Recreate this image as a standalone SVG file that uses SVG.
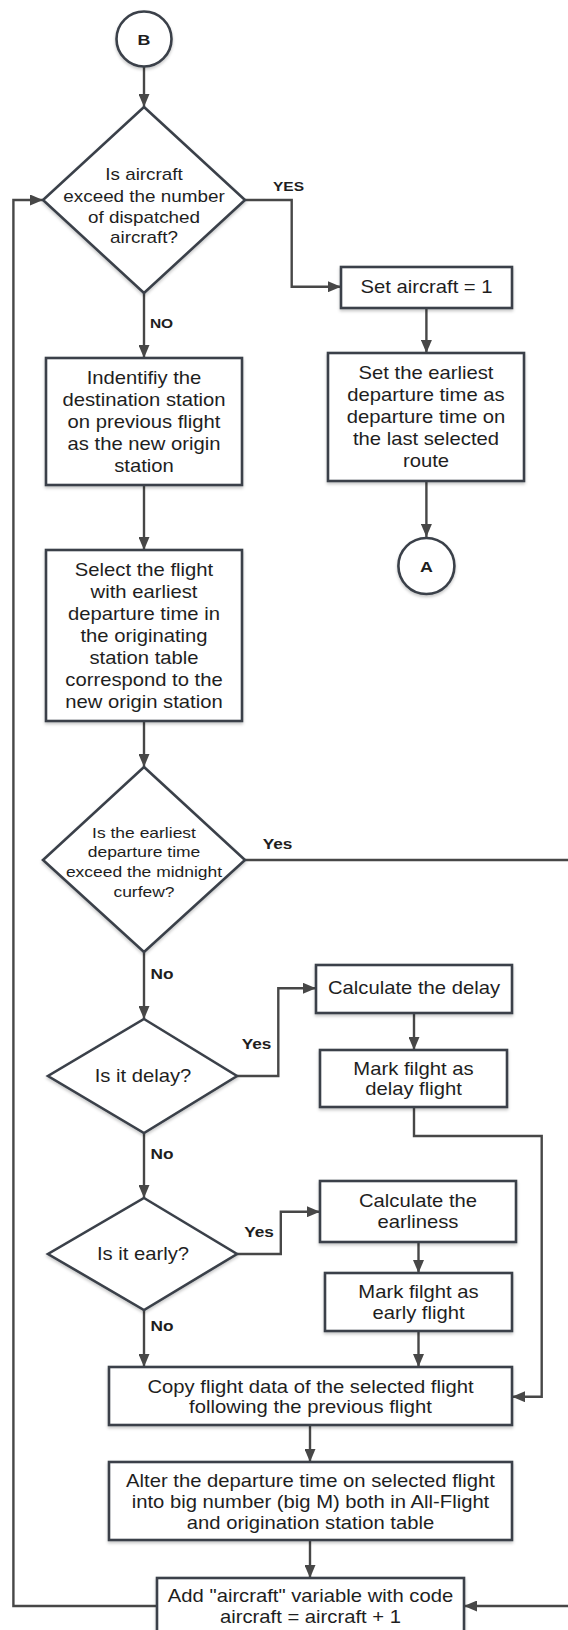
<svg xmlns="http://www.w3.org/2000/svg" width="568" height="1630" viewBox="0 0 568 1630">
  <style>
    .shape { fill: #ffffff; stroke: #3a414a; stroke-width: 2.6; filter: url(#shadow); }
    .line { fill: none; stroke: #474747; stroke-width: 2.4; marker-end: url(#arrow); }
    .t { font-family: "Liberation Sans", Arial, sans-serif; fill: #1e1e1e; text-anchor: middle; }
    .box { font-size: 17.6px; }
    .d1 { font-size: 16.4px; }
    .d2 { font-size: 15.2px; }
    .lbl { font-family: "Liberation Sans", Arial, sans-serif; font-weight: bold; fill: #1e1e1e; text-anchor: middle; }
    .caps { font-size: 13.5px; }
    .mixed { font-size: 15px; }
  </style>
  <defs>
    <filter id="shadow" x="-10%" y="-10%" width="120%" height="130%">
      <feDropShadow dx="0" dy="2" stdDeviation="1.5" flood-color="#000" flood-opacity="0.22"/>
    </filter>
    <marker id="arrow" markerUnits="userSpaceOnUse" markerWidth="14" markerHeight="11" refX="13" refY="5.5" orient="auto">
      <path d="M0,0 L13,5.5 L0,11 Z" fill="#474747"/>
    </marker>
  </defs>

  <!-- connectors -->
  <g id="connectors">
    <path class="line" d="M144,67 V107"/>
    <path class="line" d="M245,200 H291.7 V286.7 H341"/>
    <path class="line" d="M144,293 V358"/>
    <path class="line" d="M426.4,308 V353"/>
    <path class="line" d="M426.4,481 V537"/>
    <path class="line" d="M144,485 V550"/>
    <path class="line" d="M144,721 V767"/>
    <!-- curfew exceeded: runs along the outer right margin down to the counter box -->
    <path class="line" d="M245,860 H572 V1606 H464"/>
    <path class="line" d="M144,952 V1019"/>
    <path class="line" d="M237,1076 H278.3 V988.3 H316"/>
    <path class="line" d="M414,1013 V1050"/>
    <path class="line" d="M414,1107 V1136 H541.7 V1396.7 H512"/>
    <path class="line" d="M144,1133 V1198"/>
    <path class="line" d="M237,1254 H280.8 V1211.7 H320"/>
    <path class="line" d="M418.5,1242 V1273"/>
    <path class="line" d="M418.5,1331 V1367"/>
    <path class="line" d="M144,1310 V1367"/>
    <path class="line" d="M310,1425 V1462"/>
    <path class="line" d="M310,1540 V1578"/>
    <path class="line" d="M157,1606 H13.4 V200 H43"/>

    <!-- branch labels -->
    <g transform="translate(288.5 0) scale(1.15 1)"><text class="lbl caps" x="0" y="191">YES</text></g>
    <g transform="translate(161.5 0) scale(1.15 1)"><text class="lbl caps" x="0" y="328">NO</text></g>
    <g transform="translate(277.5 0) scale(1.15 1)"><text class="lbl mixed" x="0" y="849.5">Yes</text></g>
    <g transform="translate(162 0) scale(1.15 1)"><text class="lbl mixed" x="0" y="979.5">No</text></g>
    <g transform="translate(256.5 0) scale(1.15 1)"><text class="lbl mixed" x="0" y="1049">Yes</text></g>
    <g transform="translate(162 0) scale(1.15 1)"><text class="lbl mixed" x="0" y="1159">No</text></g>
    <g transform="translate(259 0) scale(1.15 1)"><text class="lbl mixed" x="0" y="1237">Yes</text></g>
    <g transform="translate(162 0) scale(1.15 1)"><text class="lbl mixed" x="0" y="1331.5" fill="#3a414a">No</text></g>
  </g>

  <!-- start connector B -->
  <g id="node-b">
    <circle class="shape" cx="144" cy="39" r="27.5"/>
    <g transform="translate(144 0) scale(1.15 1)"><text class="lbl" x="0" y="45" font-size="15.5">B</text></g>
  </g>

  <!-- decision: aircraft count -->
  <g id="node-check-aircraft">
    <polygon class="shape" points="144,107 245,200 144,293 43,200"/>
    <g transform="translate(144 0) scale(1.15 1)">
      <text class="t d1" x="0" y="180.5">Is aircraft</text>
      <text class="t d1" x="0" y="201.7">exceed the number</text>
      <text class="t d1" x="0" y="222.7">of dispatched</text>
      <text class="t d1" x="0" y="243.5">aircraft?</text>
    </g>
  </g>

  <g id="node-set-aircraft">
    <rect class="shape" x="341" y="267" width="171" height="41"/>
    <g transform="translate(426.5 0) scale(1.15 1)"><text class="t box" x="0" y="293">Set aircraft = 1</text></g>
  </g>

  <g id="node-set-earliest">
    <rect class="shape" x="328" y="353" width="196" height="128"/>
    <g transform="translate(426 0) scale(1.15 1)">
      <text class="t box" x="0" y="379.5">Set the earliest</text>
      <text class="t box" x="0" y="401.5">departure time as</text>
      <text class="t box" x="0" y="423.5">departure time on</text>
      <text class="t box" x="0" y="445.5">the last selected</text>
      <text class="t box" x="0" y="467.5">route</text>
    </g>
  </g>

  <g id="node-a">
    <circle class="shape" cx="426.4" cy="566" r="28"/>
    <g transform="translate(426.4 0) scale(1.15 1)"><text class="lbl" x="0" y="572" font-size="15.5">A</text></g>
  </g>

  <g id="node-identify">
    <rect class="shape" x="46" y="358" width="196" height="127"/>
    <g transform="translate(144 0) scale(1.15 1)">
      <text class="t box" x="0" y="384.5">Indentifiy the</text>
      <text class="t box" x="0" y="406.5">destination station</text>
      <text class="t box" x="0" y="428.5">on previous flight</text>
      <text class="t box" x="0" y="450.5">as the new origin</text>
      <text class="t box" x="0" y="472.5">station</text>
    </g>
  </g>

  <g id="node-select-flight">
    <rect class="shape" x="46" y="550" width="196" height="171"/>
    <g transform="translate(144 0) scale(1.15 1)">
      <text class="t box" x="0" y="576">Select the flight</text>
      <text class="t box" x="0" y="598">with earliest</text>
      <text class="t box" x="0" y="620">departure time in</text>
      <text class="t box" x="0" y="642">the originating</text>
      <text class="t box" x="0" y="664">station table</text>
      <text class="t box" x="0" y="686">correspond to the</text>
      <text class="t box" x="0" y="708">new origin station</text>
    </g>
  </g>

  <!-- decision: curfew -->
  <g id="node-check-curfew">
    <polygon class="shape" points="144,767 245,860 144,952 43,860"/>
    <g transform="translate(144 0) scale(1.15 1)">
      <text class="t d2" x="0" y="838">Is the earliest</text>
      <text class="t d2" x="0" y="857.5">departure time</text>
      <text class="t d2" x="0" y="877">exceed the midnight</text>
      <text class="t d2" x="0" y="897">curfew?</text>
    </g>
  </g>

  <g id="node-check-delay">
    <polygon class="shape" points="144,1019 237,1076 144,1133 48,1076"/>
    <g transform="translate(143 0) scale(1.15 1)"><text class="t box" x="0" y="1082">Is it delay?</text></g>
  </g>

  <g id="node-calc-delay">
    <rect class="shape" x="316" y="965" width="196" height="48"/>
    <g transform="translate(414 0) scale(1.15 1)"><text class="t box" x="0" y="994.5">Calculate the delay</text></g>
  </g>

  <g id="node-mark-delay">
    <rect class="shape" x="320" y="1050" width="187" height="57"/>
    <g transform="translate(413.5 0) scale(1.15 1)">
      <text class="t box" x="0" y="1075">Mark filght as</text>
      <text class="t box" x="0" y="1095.5">delay flight</text>
    </g>
  </g>

  <g id="node-check-early">
    <polygon class="shape" points="144,1198 237,1254 144,1310 48,1254"/>
    <g transform="translate(143 0) scale(1.15 1)"><text class="t box" x="0" y="1260">Is it early?</text></g>
  </g>

  <g id="node-calc-earliness">
    <rect class="shape" x="320" y="1181" width="196" height="61"/>
    <g transform="translate(418 0) scale(1.15 1)">
      <text class="t box" x="0" y="1207">Calculate the</text>
      <text class="t box" x="0" y="1228">earliness</text>
    </g>
  </g>

  <g id="node-mark-early">
    <rect class="shape" x="325" y="1273" width="187" height="58"/>
    <g transform="translate(418.5 0) scale(1.15 1)">
      <text class="t box" x="0" y="1297.7">Mark filght as</text>
      <text class="t box" x="0" y="1318.7">early flight</text>
    </g>
  </g>

  <g id="node-copy">
    <rect class="shape" x="109" y="1367" width="403" height="58"/>
    <g transform="translate(310.5 0) scale(1.15 1)">
      <text class="t box" x="0" y="1392.7">Copy flight data of the selected flight</text>
      <text class="t box" x="0" y="1413.3">following the previous flight</text>
    </g>
  </g>

  <g id="node-alter">
    <rect class="shape" x="109" y="1462" width="403" height="78"/>
    <g transform="translate(310.5 0) scale(1.15 1)">
      <text class="t box" x="0" y="1487">Alter the departure time on selected flight</text>
      <text class="t box" x="0" y="1507.7">into big number (big M) both in All-Flight</text>
      <text class="t box" x="0" y="1528.7">and origination station table</text>
    </g>
  </g>

  <g id="node-add-aircraft">
    <rect class="shape" x="157" y="1578" width="307" height="62"/>
    <g transform="translate(310.5 0) scale(1.15 1)">
      <text class="t box" x="0" y="1602">Add "aircraft" variable with code</text>
      <text class="t box" x="0" y="1622.7">aircraft = aircraft + 1</text>
    </g>
  </g>
</svg>
